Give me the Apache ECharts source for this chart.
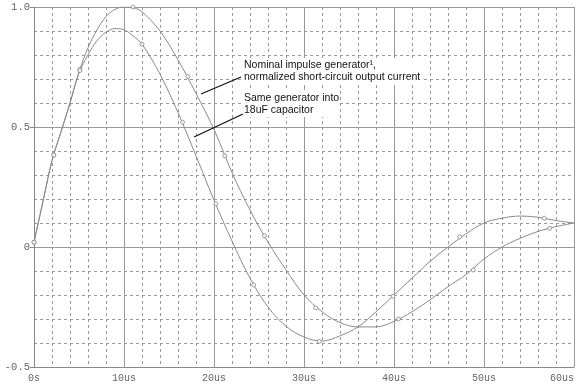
<!DOCTYPE html>
<html>
<head>
<meta charset="utf-8">
<script src="https://cdn.jsdelivr.net/npm/echarts@6/dist/echarts.min.js"></script>
<style>
html,body{margin:0;padding:0;background:#fff;}
#chart{width:580px;height:384px;}
</style>
</head>
<body>
<div id="chart"></div>
<script>
// time axis (microseconds)
const timeUs = [0,1,2,3,4,5,6,7,8,9,10,11,12,14,16,18,20,22,24,26,28,30,32,34,36,38,40,42,44,46,48,50,52,54,56,58,60];
// Nominal impulse generator, normalized short-circuit output current
const nominalCurrent = [0.02,0.19,0.36,0.48,0.60,0.73,0.83,0.905,0.96,0.99,1.0,0.997,0.98,0.90,0.78,0.64,0.49,0.31,0.154,0.02,-0.095,-0.2,-0.27,-0.315,-0.333,-0.333,-0.31,-0.27,-0.22,-0.165,-0.115,-0.05,0.0,0.036,0.065,0.085,0.10];
// Same generator into 18uF capacitor
const capacitorCurrent = [0.02,0.19,0.36,0.48,0.60,0.725,0.80,0.86,0.895,0.91,0.905,0.88,0.845,0.72,0.56,0.38,0.195,0.025,-0.13,-0.25,-0.33,-0.375,-0.392,-0.37,-0.333,-0.27,-0.20,-0.13,-0.06,0.0,0.055,0.10,0.12,0.129,0.124,0.11,0.10];
// marker points
const nominalMarkT = [0,2.2,5.1,11,17.1,21.2,25.6,31.3,40.5,48.8,57.3];
const nominalMarkV = [0.02,0.383,0.74,1.0,0.71,0.38,0.047,-0.254,-0.30,-0.096,0.078];
const capMarkT = [0,2.2,5.1,12,16.5,20.2,24.4,31.7,39.9,47.3,56.7];
const capMarkV = [0.02,0.383,0.735,0.845,0.52,0.18,-0.158,-0.393,-0.205,0.042,0.12];
// axis ticks
const xTicks = {min:0, max:60, step:10};
const yTicks = {min:-0.5, max:1.0, step:0.5};
const annoLine1 = ['Nominal impulse generator\u00b9,','normalized short-circuit output current'];
const annoLine2 = ['Same generator into','18uF capacitor'];

const zip = (a,b) => a.map((v,i)=>[v,b[i]]);
const curveColor = '#8a8a8a';
const mono = '"Liberation Mono", "DejaVu Sans Mono", monospace';
const sans = '"Liberation Sans", Arial, sans-serif';

const chart = echarts.init(document.getElementById('chart'), null, {renderer:'canvas'});
const option = {
  animation:false,
  backgroundColor:'#fff',
  grid:{left:34, right:6, top:7, bottom:17, containLabel:false},
  xAxis:{
    type:'value', min:xTicks.min, max:xTicks.max, interval:xTicks.step,
    axisLine:{show:true, onZero:false, lineStyle:{color:'#888', width:1}},
    axisTick:{show:false},
    axisLabel:{color:'#666', fontFamily:mono, fontSize:10, margin:6,
      alignMaxLabel:'right',
      formatter:v=> v===0 ? '0s' : v+'us'},
    splitLine:{show:true, lineStyle:{color:'#999', width:1, type:'solid'}},
    minorTick:{show:false, splitNumber:5},
    minorSplitLine:{show:true, lineStyle:{color:'#999', width:1, type:[3,3]}}
  },
  yAxis:{
    type:'value', min:yTicks.min, max:yTicks.max, interval:yTicks.step,
    axisLine:{show:true, onZero:false, lineStyle:{color:'#888', width:1}},
    axisTick:{show:true, length:4, lineStyle:{color:'#888'}},
    axisLabel:{color:'#666', fontFamily:mono, fontSize:10.5, margin:4,
      formatter:v=> v===0 ? '0' : v.toFixed(1)},
    splitLine:{show:true, lineStyle:{color:'#999', width:1, type:'solid'}},
    minorTick:{show:false, splitNumber:5},
    minorSplitLine:{show:true, lineStyle:{color:'#999', width:1, type:[3,3]}}
  },
  series:[
    {type:'line', name:'nominal', data:zip(timeUs,nominalCurrent), smooth:0.35, showSymbol:false,
      lineStyle:{color:curveColor, width:1}, z:3},
    {type:'line', name:'capacitor', data:zip(timeUs,capacitorCurrent), smooth:0.35, showSymbol:false,
      lineStyle:{color:curveColor, width:1}, z:3},
    {type:'scatter', data:zip(nominalMarkT,nominalMarkV), symbol:'circle', symbolSize:4,
      itemStyle:{color:'#fff', borderColor:curveColor, borderWidth:1}, z:4},
    {type:'scatter', data:zip(capMarkT,capMarkV), symbol:'circle', symbolSize:4,
      itemStyle:{color:'#fff', borderColor:curveColor, borderWidth:1}, z:4}
  ],
  graphic:[
    {type:'rect', shape:{x:242,y:58,width:182,height:27}, style:{fill:'#fff'}, z:10},
    {type:'rect', shape:{x:242,y:90,width:96,height:27}, style:{fill:'#fff'}, z:10},
    {type:'text', left:244, top:59, z:11, style:{text:annoLine1.join('\n'), fontFamily:sans, fontSize:10.5, lineHeight:12, fill:'#111'}},
    {type:'text', left:244, top:92, z:11, style:{text:annoLine2.join('\n'), fontFamily:sans, fontSize:10.5, lineHeight:12, fill:'#111'}},
    {type:'line', shape:{x1:201,y1:94,x2:241,y2:77}, style:{stroke:'#111', lineWidth:1.3}, z:11},
    {type:'line', shape:{x1:194,y1:137,x2:243,y2:114}, style:{stroke:'#111', lineWidth:1.3}, z:11}
  ]
};
chart.setOption(option);
</script>
</body>
</html>
